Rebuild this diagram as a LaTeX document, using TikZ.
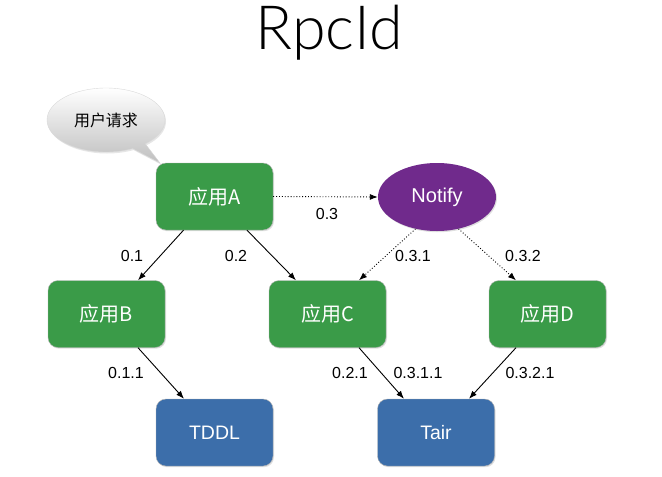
\documentclass[tikz,border=0pt]{standalone}
\usepackage{fontspec}
\setmainfont{Liberation Sans}
\newfontfamily\cjk{Noto Sans CJK SC}
\newfontfamily\thinfont{Lato Light}
\usetikzlibrary{arrows.meta,shapes.geometric,shapes.callouts,shadows}
\definecolor{boxgreen}{RGB}{58,155,72}
\definecolor{boxblue}{RGB}{60,110,170}
\definecolor{notipurple}{RGB}{112,42,140}
\tikzset{
  appbox/.style={rounded corners=10pt, minimum width=117pt, minimum height=67pt,
    inner sep=0pt, text=white, font=\cjk\fontsize{20}{22}\selectfont,
    draw=white!70!black, line width=0.4pt,
    drop shadow={opacity=0.25, shadow xshift=1pt, shadow yshift=-1.2pt}},
  green/.style={appbox, fill=boxgreen},
  blue/.style={appbox, fill=boxblue},
  lbl/.style={font=\fontsize{16}{18}\selectfont, text=black, inner sep=0pt},
  solidarrow/.style={-{Latex[length=8pt,width=6pt]}, line width=0.9pt},
  dotarrow/.style={-{Latex[length=8pt,width=6pt]}, line width=0.9pt, dotted},
}
\begin{document}
\begin{tikzpicture}[x=1pt,y=-1pt]
\useasboundingbox (0,0) rectangle (662,477);
% title
\node[font=\thinfont\fontsize{61}{66}\selectfont, anchor=base, inner sep=0pt] (title) at (329,49) {RpcId};
% bubble
\node[ellipse callout, minimum width=118pt, minimum height=64pt, inner sep=0pt,
  callout absolute pointer={(160,163)},
  top color=white, bottom color=black!25, draw=black!15, line width=0.4pt,
  drop shadow={opacity=0.2, shadow xshift=1pt, shadow yshift=-1.5pt},
  font=\cjk\fontsize{16}{18}\selectfont] (req) at (106,120) {用户请求};
% nodes
\node[green] (A) at (214.5,196.5) {应用A};
\node[green] (B) at (106.5,314) {应用B};
\node[green] (C) at (327.5,314) {应用C};
\node[green] (D) at (547.5,314) {应用D};
\node[blue] (T) at (214.5,432.5) {\fontspec{Liberation Sans}\fontsize{19.5}{22}\selectfont TDDL};
\node[blue] (R) at (436,432.5) {\fontspec{Liberation Sans}\fontsize{19.5}{22}\selectfont Tair};
\node[ellipse, fill=notipurple, minimum width=118pt, minimum height=68pt, inner sep=0pt,
  text=white, font=\fontsize{20}{22}\selectfont,
  drop shadow={opacity=0.25, shadow xshift=1pt, shadow yshift=-1.2pt}] (N) at (437,197) {Notify};
% edges
\draw[solidarrow] ([xshift=-31pt]A.south) -- ([xshift=31.5pt]B.north);
\draw[solidarrow] ([xshift=32.5pt]A.south) -- ([xshift=-31.5pt]C.north);
\draw[dotarrow] (A.east) -- (N.west);
\draw[dotarrow] (N.-124) -- ([xshift=31.5pt]C.north);
\draw[dotarrow] (N.-56) -- ([xshift=-31.5pt]D.north);
\draw[solidarrow] ([xshift=31.5pt]B.south) -- ([xshift=-30.5pt]T.north);
\draw[solidarrow] ([xshift=31.5pt]C.south) -- ([xshift=-32pt]R.north);
\draw[solidarrow] ([xshift=-31.5pt]D.south) -- ([xshift=33pt]R.north);
% labels
\node[lbl] (l03) at (327,214) {0.3};
\node[lbl] (l01) at (132,256) {0.1};
\node[lbl] (l02) at (236,256) {0.2};
\node[lbl] (l031) at (413,256) {0.3.1};
\node[lbl] (l032) at (523,256) {0.3.2};
\node[lbl] (l011) at (126,373) {0.1.1};
\node[lbl] (l021) at (350,373) {0.2.1};
\node[lbl] (l0311) at (418,373) {0.3.1.1};
\node[lbl] (l0321) at (530,373) {0.3.2.1};
\end{tikzpicture}
\end{document}
